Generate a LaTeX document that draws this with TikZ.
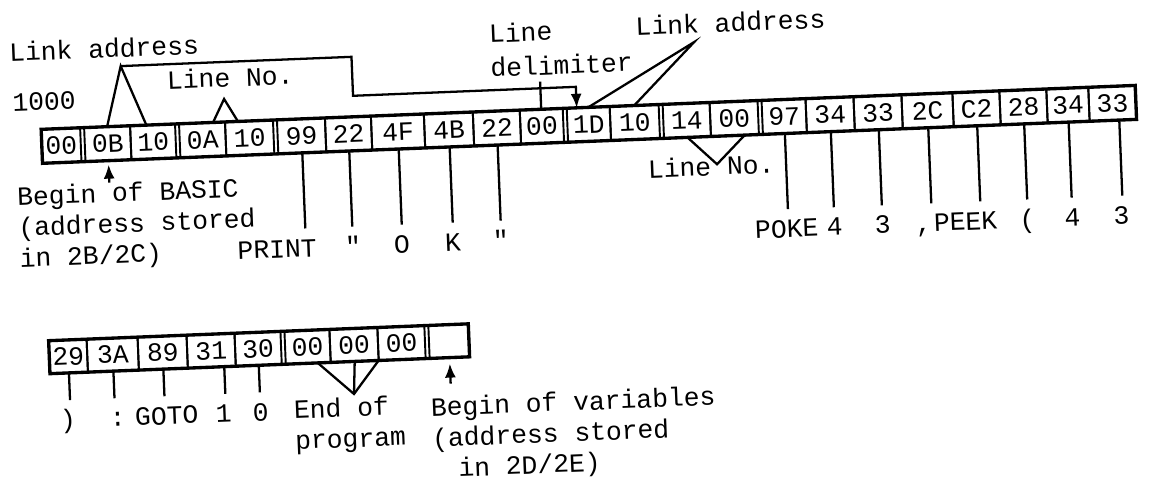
\documentclass[tikz,border=0pt]{standalone}
\usepackage{fontspec}
\setmonofont{Liberation Mono}
\usetikzlibrary{arrows.meta}

\begin{document}
\begin{tikzpicture}[x=0.02cm,y=-0.02cm,
  every node/.style={font=\ttfamily\fontsize{15}{17.5}\selectfont},
  cell/.style={draw,line width=1.1pt,minimum height=0.68cm,inner sep=0pt,outer sep=0pt,anchor=west},
  frame/.style={line width=1.9pt},
  lbl/.style={inner sep=0pt,text height=0.36cm,text depth=0.08cm,anchor=base},
  note/.style={inner sep=0pt,align=left,anchor=north west},
  leg/.style={line width=1.3pt},
  tick/.style={line width=1.3pt,shorten >=0.2cm},
  ptr/.style={line width=1.3pt,-{Latex[length=2.8mm,width=2.2mm]}}]
  \useasboundingbox (0,0) rectangle (1151,481);
  \begin{scope}[rotate around={2.3:(575,240)},transform shape]
  \node[cell,minimum width=0.78cm] (c1) at (46,125) {00};
  \node[cell,minimum width=0.92cm] (c2) at (89,125) {0B};
  \node[cell,minimum width=0.90cm] (c3) at (135,125) {10};
  \node[cell,minimum width=0.92cm] (c4) at (184,125) {0A};
  \node[cell,minimum width=0.96cm] (c5) at (230,125) {10};
  \node[cell,minimum width=0.96cm] (c6) at (282,125) {99};
  \node[cell,minimum width=0.92cm] (c7) at (330,125) {22};
  \node[cell,minimum width=1.06cm] (c8) at (376,125) {4F};
  \node[cell,minimum width=0.98cm] (c9) at (429,125) {4B};
  \node[cell,minimum width=0.94cm] (c10) at (478,125) {22};
  \node[cell,minimum width=0.86cm] (c11) at (525,125) {00};
  \node[cell,minimum width=0.86cm] (c12) at (572,125) {1D};
  \node[cell,minimum width=0.98cm] (c13) at (615,125) {10};
  \node[cell,minimum width=0.94cm] (c14) at (668,125) {14};
  \node[cell,minimum width=0.96cm] (c15) at (715,125) {00};
  \node[cell,minimum width=0.88cm] (c16) at (767,125) {97};
  \node[cell,minimum width=0.96cm] (c17) at (811,125) {34};
  \node[cell,minimum width=0.96cm] (c18) at (859,125) {33};
  \node[cell,minimum width=1.02cm] (c19) at (907,125) {2C};
  \node[cell,minimum width=0.94cm] (c20) at (958,125) {C2};
  \node[cell,minimum width=0.94cm] (c21) at (1005,125) {28};
  \node[cell,minimum width=0.84cm] (c22) at (1052,125) {34};
  \node[cell,minimum width=0.94cm] (c23) at (1094,125) {33};
  \draw[frame] (c1.north west) -- (c23.north east) -- (c23.south east) -- (c1.south west) -- cycle;

  \node[cell,minimum height=0.66cm,minimum width=0.76cm] (d1) at (45,336) {29};
  \node[cell,minimum height=0.66cm,minimum width=1.02cm] (d2) at (83,336) {3A};
  \node[cell,minimum height=0.66cm,minimum width=0.98cm] (d3) at (134,336) {89};
  \node[cell,minimum height=0.66cm,minimum width=0.96cm] (d4) at (183,336) {31};
  \node[cell,minimum height=0.66cm,minimum width=0.92cm] (d5) at (231,336) {30};
  \node[cell,minimum height=0.66cm,minimum width=0.90cm] (d6) at (281,336) {00};
  \node[cell,minimum height=0.66cm,minimum width=0.96cm] (d7) at (326,336) {00};
  \node[cell,minimum height=0.66cm,minimum width=0.94cm] (d8) at (374,336) {00};
  \node[cell,minimum height=0.66cm,minimum width=0.80cm] (d9) at (425,336) {};
  \draw[frame] (d1.north west) -- (d9.north east) -- (d9.south east) -- (d1.south west) -- cycle;

  \node[lbl] (lka) at (112,39) {Link address};
  \node[lbl] (lkb) at (739,38) {Link address};
  \node[lbl] (lna) at (237,73) {Line No.};
  \node[lbl] (lnb) at (714,181) {Line No.};
  \node[lbl] (adr) at (50,89) {1000};
  \coordinate (la) at (128,48);
  \coordinate (lb) at (359,48);
  \coordinate (lc) at (359,87);
  \coordinate (ld) at (582,87);
  \draw[leg] (c2.north) -- (la) -- (c3.110);
  \draw[ptr] (la) -- (lb) -- (lc) -- (ld) -- (c12.124);
  \coordinate (ln1) at (230,85);
  \draw[leg] (c4.57) -- (ln1) -- (c5.123);
  \coordinate (la2) at (702,47);
  \draw[leg] (c12.north) -- (la2) -- (c13.north);
  \coordinate (ln2) at (720,170);
  \draw[leg] (c14.south) -- (ln2) -- (c15.-60);
  \node[note] (dl) at (497,20) {Line\\[0.07cm]delimiter};
  \draw[leg,shorten <=0.12cm] (c11.north |- dl.south) -- (c11.north);

  \node[note] (bb) at (19,164) {Begin of BASIC\\(address stored\\in 2B/2C)};
  \draw[ptr,shorten >=0.08cm] (bb.north -| c2.south) -- (c2.south);
  \node[lbl] (lpr) at (277,246) {PRINT};
  \node[lbl] (lq1) at (353,246) {"};
  \node[lbl] (lo) at (402,246) {O};
  \node[lbl] (lk) at (453,246) {K};
  \node[lbl] (lq2) at (501,246) {"};
  \node[lbl] (lpo) at (787,246) {POKE};
  \node[lbl] (l4a) at (835,246) {4};
  \node[lbl] (l3a) at (883,246) {3};
  \node[lbl] (lcm) at (924,246) {,};
  \node[lbl] (lpe) at (966,246) {PEEK};
  \node[lbl] (lpa) at (1028,246) {(};
  \node[lbl] (l4b) at (1073,246) {4};
  \node[lbl] (l3b) at (1122,246) {3};
  \draw[tick] (c6.south) -- (c6.south |- lpr.north);
  \draw[tick] (c7.south) -- (c7.south |- lq1.north);
  \draw[tick] (c8.south) -- (c8.south |- lo.north);
  \draw[tick] (c9.south) -- (c9.south |- lk.north);
  \draw[tick] (c10.south) -- (c10.south |- lq2.north);
  \draw[tick] (c16.south) -- (c16.south |- lpo.north);
  \draw[tick] (c17.south) -- (c17.south |- l4a.north);
  \draw[tick] (c18.south) -- (c18.south |- l3a.north);
  \draw[tick] (c19.south) -- (c19.south |- lcm.north);
  \draw[tick] (c20.south) -- (c20.south |- lpe.north);
  \draw[tick] (c21.south) -- (c21.south |- lpa.north);
  \draw[tick] (c22.south) -- (c22.south |- l4b.north);
  \draw[tick] (c23.-70) -- (c23.-70 |- l3b.north);

  \node[lbl] (lrp) at (61,408) {)};
  \node[lbl] (lcol) at (111,408) {:};
  \node[lbl] (lgo) at (160,408) {GOTO};
  \node[lbl] (l1) at (217,408) {1};
  \node[lbl] (l0) at (254,408) {0};
  \draw[tick] (d1.south) -- (d1.south |- lrp.north);
  \draw[tick] (d2.south) -- (d2.south |- lcol.north);
  \draw[tick] (d3.south) -- (d3.south |- lgo.north);
  \draw[tick] (d4.-53) -- (d4.-53 |- l1.north);
  \draw[tick] (d5.south) -- (d5.south |- l0.north);
  \node[note] (ep) at (287,388) {End of\\program};
  \coordinate (eop) at (348,385);
  \draw[leg] (d6.-60) -- (eop) -- (d7.south east);
  \draw[leg] (d7.south) -- (eop);
  \node[note] (bv) at (424,391) {Begin of variables\\(address stored\\\hspace*{0.5cm}in 2D/2E)};
  \draw[ptr,shorten <=0.25cm,shorten >=0.12cm] (bv.north -| d9.south) -- (d9.south);
  \end{scope}
\end{tikzpicture}
\end{document}
